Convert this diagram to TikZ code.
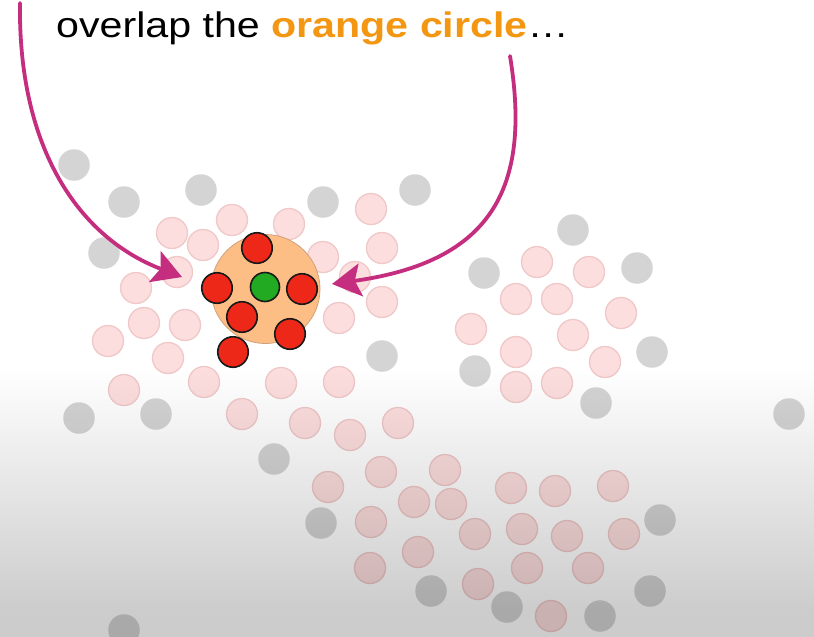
\documentclass[tikz,border=0pt]{standalone}
\usepackage{fontspec}
\setmainfont{Liberation Sans}
\usetikzlibrary{arrows.meta,fadings}
\definecolor{arrowc}{HTML}{C52E7F}
\definecolor{ortext}{HTML}{F39612}
\definecolor{orfill}{HTML}{FDBE86}
\definecolor{ordraw}{HTML}{CFA07A}
\definecolor{redfill}{HTML}{EE2818}
\definecolor{greenfill}{HTML}{22AA22}
\definecolor{pinkfill}{HTML}{FDDEDE}
\definecolor{pinkdraw}{HTML}{F0C8C8}
\definecolor{grayfill}{HTML}{D4D4D4}
\tikzfading[name=fadedown, top color=transparent!100, bottom color=transparent!0]
\begin{document}
\begin{tikzpicture}[x=1pt,y=-1pt,
  graydot/.style={circle,fill=grayfill,minimum size=31.5pt,inner sep=0pt},
  pinkdot/.style={circle,fill=pinkfill,draw=pinkdraw,line width=1.3pt,minimum size=31pt,inner sep=0pt},
  reddot/.style={circle,fill=redfill,draw=black!90,line width=1.6pt,minimum size=30.5pt,inner sep=0pt},
  greendot/.style={circle,fill=greenfill,draw=black!90,line width=1.6pt,minimum size=29pt,inner sep=0pt},
  bigcircle/.style={circle,fill=orfill,draw=ordraw,line width=0.8pt,minimum size=109pt,inner sep=0pt},
  pointer/.style={draw=arrowc,line width=3.8pt,line cap=round,-{Stealth[length=29pt,width=33pt,inset=6pt]}}]
\useasboundingbox (0,0) rectangle (814,637);
\fill[white] (0,0) rectangle (814,637);
% gray dots
\foreach \x/\y [count=\i] in {74/165,124/202,201/190,104/253,323/202,415/190,573/230,484/273,637/268,382/356,475/371,652/352,596/403,789/414,79/418,156/414,274/459,321/523,660/520,431/591,507/607,600/616,650/591,124/630}
  \node[graydot] (g\i) at (\x,\y) {};
% pink dots
\foreach \x/\y [count=\i] in {172/233,232/220,203/245,289/224,371/209,382/248,323/257,355/277,136/288,177/272,382/302,339/318,144/323,185/325,108/341,168/358,124/390,204/382,281/383,339/382,242/414,305/423,350/435,398/423,
537/262,589/272,516/299,557/299,621/313,471/329,573/335,516/352,605/362,516/387,557/383,
381/472,445/470,328/487,414/502,451/504,511/488,555/491,613/486,371/522,475/534,522/529,567/536,624/534,418/552,370/568,527/568,588/568,478/584,551/616}
  \node[pinkdot] (p\i) at (\x,\y) {};
% bottom shading
\fill[black,fill opacity=0.2,path fading=fadedown] (0,368) rectangle (814,610);
\fill[black,fill opacity=0.2] (0,609.5) rectangle (814,637);
% orange circle and its dots
\node[bigcircle] (oc) at (265.5,289) {};
\node[reddot] (r1) at (257,248) {};
\node[reddot] (r2) at (217,288) {};
\node[reddot] (r3) at (302,289) {};
\node[reddot] (r4) at (242,317) {};
\node[reddot] (r5) at (290,334) {};
\node[reddot] (r6) at (233,352) {};
\node[greendot] (gc) at (265,287) {};
% arrows
\coordinate (s1) at (20,3);
\coordinate (t1) at (182,277);
\coordinate (s2) at (510,56);
\coordinate (t2) at (332,284);
\draw[pointer] (s1) .. controls (18,150) and (80,238) .. (t1);
\draw[pointer] (s2) .. controls (532,190) and (490,262) .. (t2);
% title
\node[anchor=base west,inner sep=0pt] (title) at (56,37.5)
  {\scalebox{1.16}[1]{\fontsize{35.5}{40}\selectfont overlap the \textcolor{ortext}{\bfseries orange circle}…}};
\end{tikzpicture}
\end{document}
